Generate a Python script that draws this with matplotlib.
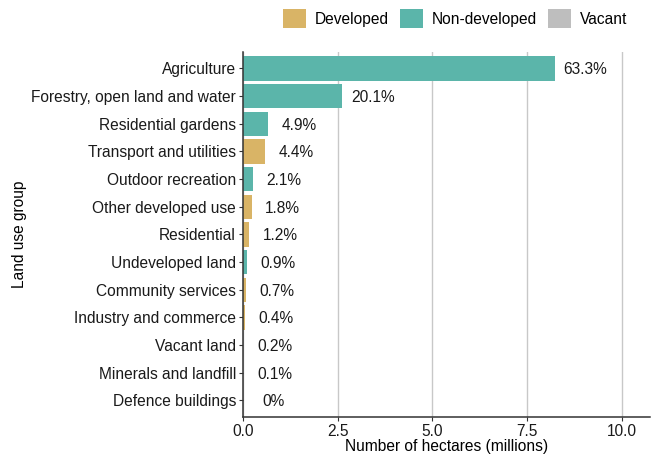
import matplotlib.pyplot as plt
from matplotlib.patches import Patch

plt.rcParams['font.family'] = ['Liberation Sans', 'DejaVu Sans']

# datos (millones de hectareas)
groups = ['Agriculture', 'Forestry, open land and water', 'Residential gardens',
          'Transport and utilities', 'Outdoor recreation', 'Other developed use',
          'Residential', 'Undeveloped land', 'Community services',
          'Industry and commerce', 'Vacant land', 'Minerals and landfill',
          'Defence buildings']
hectares = [8.23, 2.63, 0.66, 0.58, 0.27, 0.23, 0.16, 0.12, 0.09, 0.05, 0.03, 0.015, 0.003]
pct_labels = ['63.3%', '20.1%', '4.9%', '4.4%', '2.1%', '1.8%', '1.2%', '0.9%',
              '0.7%', '0.4%', '0.2%', '0.1%', '0%']
kind = ['Non-developed', 'Non-developed', 'Non-developed', 'Developed', 'Non-developed',
        'Developed', 'Developed', 'Non-developed', 'Developed', 'Developed',
        'Vacant', 'Developed', 'Developed']

colors = {'Developed': '#D9B466', 'Non-developed': '#5BB5AA', 'Vacant': '#BEBEBE'}
fs = 11.2

fig = plt.figure(figsize=(6.51, 4.55), dpi=100)
ax = fig.add_axes([0.373, 0.0835, 0.625, 0.8025])

y = list(range(len(groups)))
ax.barh(y, hectares, height=0.88, color=[colors[k] for k in kind], zorder=2)

for yi, v, lab in zip(y, hectares, pct_labels):
    ax.annotate(lab, (v, yi), xytext=(31, 0), textcoords='offset pixels',
                ha='center', va='center_baseline', fontsize=fs, color='#1a1a1a')

ax.set_yticks(y)
ax.set_yticklabels(groups, fontsize=fs, color='#1a1a1a')
ax.set_ylim(len(groups) - 0.4, -0.6)
ax.set_xlim(0, 10.74)
ax.set_xticks([0, 2.5, 5, 7.5, 10])
ax.set_xticklabels(['0.0', '2.5', '5.0', '7.5', '10.0'], fontsize=fs, color='#1a1a1a')

ax.grid(axis='x', color='#c8c8c8', linewidth=1, zorder=0)
for s in ['top', 'right']:
    ax.spines[s].set_visible(False)
for s in ['left', 'bottom']:
    ax.spines[s].set_color('#333333')
    ax.spines[s].set_linewidth(1.1)
ax.tick_params(axis='both', length=3, color='#333333', pad=2)

ax.set_xlabel('Number of hectares (millions)', fontsize=fs, labelpad=0)
ax.set_ylabel('Land use group', fontsize=fs, labelpad=3)

handles = [Patch(facecolor=colors[k], edgecolor='none', label=k)
           for k in ['Developed', 'Non-developed', 'Vacant']]
fig.legend(handles=handles, loc='upper right', bbox_to_anchor=(0.985, 1.01), ncol=3,
           frameon=False, fontsize=fs, handlelength=1.45, handleheight=1.45,
           columnspacing=0.7, handletextpad=0.6)

plt.savefig('out.png', dpi=100)
